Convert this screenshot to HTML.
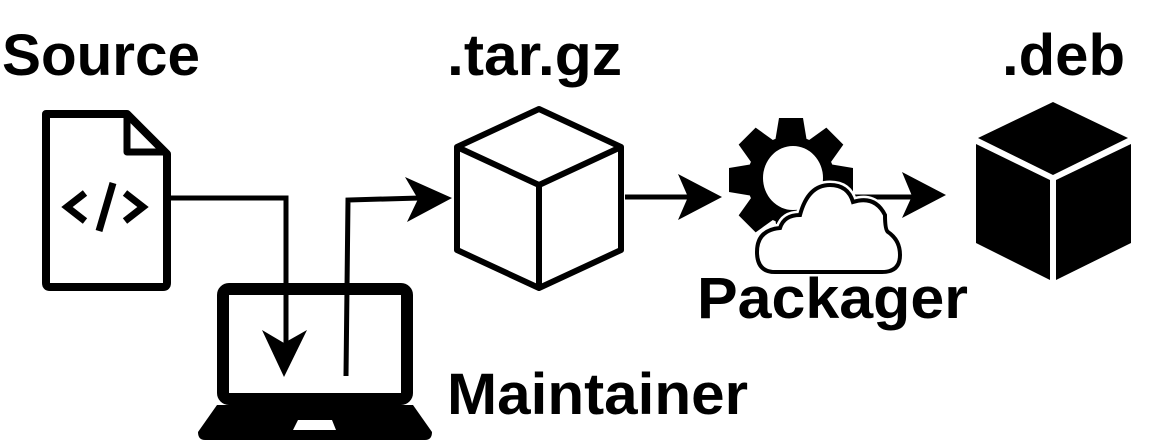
<!DOCTYPE html>
<html><head><style>html,body{margin:0;padding:0;background:#fff;}svg{display:block}</style></head>
<body>
<svg width="1163" height="445" viewBox="0 0 1163 445" xmlns="http://www.w3.org/2000/svg">
<g font-family="Liberation Sans, sans-serif" font-weight="bold" fill="#000">
<text x="2" y="75" font-size="58" textLength="198" lengthAdjust="spacingAndGlyphs">Source</text>
<text x="447" y="75" font-size="58" textLength="175" lengthAdjust="spacingAndGlyphs">.tar.gz</text>
<text x="1002" y="75" font-size="58" textLength="123" lengthAdjust="spacingAndGlyphs">.deb</text>
<text x="697" y="318" font-size="58" textLength="271" lengthAdjust="spacingAndGlyphs">Packager</text>
<text x="447" y="414" font-size="58" textLength="301" lengthAdjust="spacingAndGlyphs">Maintainer</text>
</g>
<!-- document -->
<path d="M46 114 H127 L167 154 V283 Q167 287 163 287 H50 Q46 287 46 283 Z" fill="none" stroke="#000" stroke-width="8" stroke-linejoin="round"/>
<path d="M127 114 V152 H167" fill="none" stroke="#000" stroke-width="7" stroke-linejoin="round"/>
<path d="M85 193 L67 207 L85 221" fill="none" stroke="#000" stroke-width="7"/>
<path d="M125 193 L143 207 L125 221" fill="none" stroke="#000" stroke-width="7"/>
<line x1="113" y1="183" x2="99" y2="231" stroke="#000" stroke-width="7"/>
<!-- arrow doc -> laptop -->
<path d="M170 198 H286 V345" fill="none" stroke="#000" stroke-width="5"/>
<path d="M262 330 L284 377 L307 330 L284 343 Z" fill="#000"/>
<!-- laptop -->
<rect x="223" y="289" width="184" height="110" rx="6" fill="none" stroke="#000" stroke-width="12"/>
<path d="M217 405 H413 L432 432 Q432 440 425 440 H205 Q198 440 198 432 Z" fill="#000"/>
<path d="M298 420 H332 L336 430 H293 Z" fill="#fff"/>
<!-- arrow laptop -> tar -->
<path d="M346 376 L348 200 L420 198" fill="none" stroke="#000" stroke-width="5"/>
<path d="M405 177 L452 198 L407 222 L418 199 Z" fill="#000"/>
<!-- outline cube -->
<g fill="none" stroke="#000" stroke-width="6" stroke-linejoin="round">
<path d="M539 109 L621 147 L621 250 L539 288 L457 250 L457 147 Z"/>
<path d="M457 147 L539 185 L621 147 M539 185 V288"/>
</g>
<!-- arrow tar -> packager -->
<line x1="625" y1="197" x2="700" y2="197" stroke="#000" stroke-width="5"/>
<path d="M678 174 L722 197 L678 220 L688 197 Z" fill="#000"/>
<!-- gear -->
<g transform="translate(791,180)">
<g fill="#000">
<path d="M-12 -62 L12 -62 L16 -38 L-16 -38 Z"/>
<path d="M-12 -62 L12 -62 L16 -38 L-16 -38 Z" transform="rotate(45)"/>
<path d="M-12 -62 L12 -62 L16 -38 L-16 -38 Z" transform="rotate(90)"/>
<path d="M-12 -62 L12 -62 L16 -38 L-16 -38 Z" transform="rotate(135)"/>
<path d="M-12 -62 L12 -62 L16 -38 L-16 -38 Z" transform="rotate(180)"/>
<path d="M-12 -62 L12 -62 L16 -38 L-16 -38 Z" transform="rotate(225)"/>
<path d="M-12 -62 L12 -62 L16 -38 L-16 -38 Z" transform="rotate(270)"/>
<path d="M-12 -62 L12 -62 L16 -38 L-16 -38 Z" transform="rotate(315)"/>
</g>
<circle r="44" fill="#000"/>
<ellipse cx="2" cy="-2" rx="30" ry="32" fill="#fff"/>
</g>
<!-- arrow packager -> deb -->
<line x1="848" y1="197" x2="920" y2="197" stroke="#000" stroke-width="5"/>
<path d="M902 172 L946 195 L902 218 L912 196 Z" fill="#000"/>
<!-- cloud -->
<path d="M775 272 Q757 272 757 252 Q757 230 780 228 Q784 215 800 215 Q808 185 830 185 Q848 185 853 202 Q875 195 885 215 Q885 230 888 232 Q900 240 900 255 Q900 272 882 272 Z" fill="#fff" stroke="#fff" stroke-width="9" stroke-linejoin="round"/>
<path d="M775 272 Q757 272 757 252 Q757 230 780 228 Q784 215 800 215 Q808 185 830 185 Q848 185 853 202 Q875 195 885 215 Q885 230 888 232 Q900 240 900 255 Q900 272 882 272 Z" fill="none" stroke="#000" stroke-width="4"/>
<!-- solid cube -->
<path d="M1053 102 L1128 138 L1053 175 L978 138 Z" fill="#000"/>
<path d="M976 144 L1050 180 V280 L976 243 Z" fill="#000"/>
<path d="M1056 180 L1131 144 V243 L1056 280 Z" fill="#000"/>
</svg>
</body></html>
